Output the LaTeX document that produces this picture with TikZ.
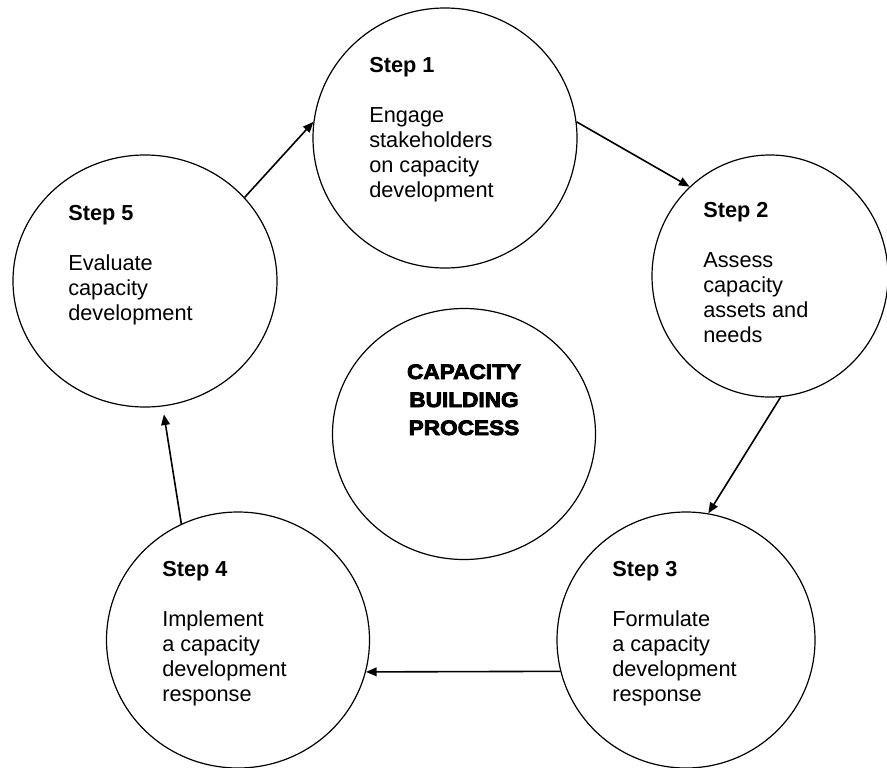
\documentclass[tikz,border=0pt]{standalone}
\usepackage{fontspec}
\setmainfont{Liberation Sans}
\newfontfamily\heavyfont[FakeBold=4,FakeStretch=1.08]{Liberation Sans Bold}
\usetikzlibrary{shapes.geometric, arrows.meta}
\tikzset{ s/.style = { ellipse
                     , draw
                     , line width = 0.9pt
                     , inner sep  = 0pt
                     },
          t/.style = { anchor     = base west
                     , align      = left
                     , inner sep  = 0pt
                     , font       = \fontsize{16.3}{18.75}\selectfont
                     },
          a/.style = { -{Triangle[length=8pt, width=6.5pt]}
                     , line width = 1.2pt
                     }
        }

\begin{document}
\begin{tikzpicture}[x=0.75pt, y=-0.75pt]
    \useasboundingbox (0,0) rectangle (887,767);
    % the five steps and the centre
    \node[s, minimum width=198pt,    minimum height=195pt]    (s1) at (445,138) {};
    \node[s, minimum width=177pt,    minimum height=181.5pt]  (s2) at (770,276) {};
    \node[s, minimum width=193.5pt,  minimum height=192pt]    (s3) at (686,640) {};
    \node[s, minimum width=197.25pt, minimum height=192pt]    (s4) at (238,640) {};
    \node[s, minimum width=198pt,    minimum height=189pt]    (s5) at (145,281) {};
    \node[s, minimum width=197.25pt, minimum height=188.25pt] (c)  at (464,434) {};

    % base = baseline of the last line
    \node[t] (t1) at (369,197) {\textbf{Step 1}\\[18.75pt]Engage\\stakeholders\\on capacity\\development};
    \node[t] (t2) at (703,342) {\textbf{Step 2}\\[18.75pt]Assess\\capacity\\assets and\\needs};
    \node[t] (t3) at (612,701) {\textbf{Step 3}\\[18.75pt]Formulate\\a capacity\\development\\response};
    \node[t] (t4) at (162,701) {\textbf{Step 4}\\[18.75pt]Implement\\a capacity\\development\\response};
    \node[t] (t5) at (68,320)  {\textbf{Step 5}\\[18.75pt]Evaluate\\capacity\\development};
    \node[anchor=base, align=center, inner sep=0pt,
          font=\heavyfont\fontsize{15.7}{21}\selectfont] (ct) at (464,435)
          {CAPACITY\\BUILDING\\PROCESS};

    % the cycle
    \draw[a] (s5.40)   -- (s1.173);
    \draw[a] (s1.7)    -- (s2.132);
    \draw[a] (s2.-85)  -- (s3.80);
    \draw[a] (s3.194)  -- (s4.-14);
    \draw[a, shorten >=6pt] (s4.116) -- (s5.-82);
\end{tikzpicture}
\end{document}
